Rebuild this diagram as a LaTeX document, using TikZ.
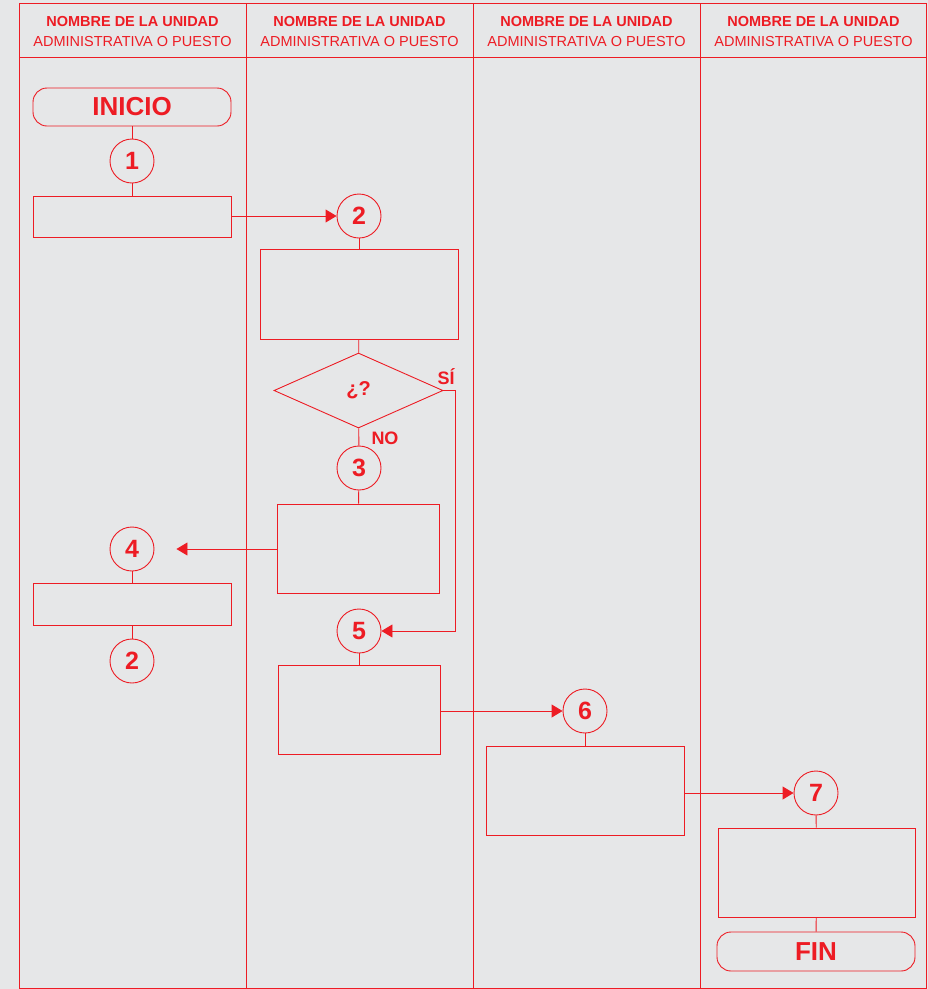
\documentclass[tikz,border=0pt]{standalone}
\usepackage{fontspec}
\setmainfont{Liberation Sans}
\usetikzlibrary{shapes.geometric,arrows.meta}
\definecolor{rojo}{HTML}{ED1C24}
\definecolor{fondo}{HTML}{E6E7E8}

\begin{document}
\begin{tikzpicture}
		[x=1pt,y=-1pt,
		color=rojo,
		block/.style ={rectangle, draw=rojo, line width=0.9pt, inner sep=0pt, minimum width=198pt},
		terminal/.style ={block, rounded corners=14pt, minimum height=38pt, font=\bfseries\fontsize{26}{28}\selectfont},
		paso/.style ={circle, draw=rojo, line width=0.9pt, minimum size=44pt, inner sep=0pt, font=\bfseries\fontsize{25}{26}\selectfont},
		decision/.style ={diamond, draw=rojo, line width=0.9pt, inner sep=0pt, minimum width=169pt, minimum height=75pt, font=\bfseries\fontsize{20}{22}\selectfont},
		etiqueta/.style ={font=\bfseries\fontsize{18}{19}\selectfont, inner sep=0pt},
		titulo/.style ={align=center, inner sep=0pt, font=\fontsize{14.5}{20}\selectfont},
		line/.style ={draw=rojo, line width=0.9pt},
		flecha/.style ={line, -{Triangle[length=11pt,width=13pt]}},
		]

		% fondo y carriles
		\fill[fondo] (0,0) rectangle (928,989);
		\useasboundingbox (0,0) rectangle (928,989);
		\draw[line, line width=0.7pt] (19,3) rectangle (926,988);
		\draw[line, line width=0.7pt] (19,57) -- (926,57);
		\draw[line, line width=0.7pt] (246,3) -- (246,988);
		\draw[line, line width=0.7pt] (473,3) -- (473,988);
		\draw[line, line width=0.7pt] (700,3) -- (700,988);

		\draw (132.5,31.5) node[titulo] (H1) {\textbf{\fontsize{14.5}{20}\selectfont NOMBRE DE LA UNIDAD}\\ADMINISTRATIVA O PUESTO};
		\draw (359.5,31.5) node[titulo] (H2) {\textbf{\fontsize{14.5}{20}\selectfont NOMBRE DE LA UNIDAD}\\ADMINISTRATIVA O PUESTO};
		\draw (586.5,31.5) node[titulo] (H3) {\textbf{\fontsize{14.5}{20}\selectfont NOMBRE DE LA UNIDAD}\\ADMINISTRATIVA O PUESTO};
		\draw (813.5,31.5) node[titulo] (H4) {\textbf{\fontsize{14.5}{20}\selectfont NOMBRE DE LA UNIDAD}\\ADMINISTRATIVA O PUESTO};

		% diagrama
		\draw (132,107) node[terminal] (INI) {INICIO};
		\draw (132,161) node[paso] (C1) {1};
		\draw (132,216.5) node[block, minimum height=41pt] (B1) {};
		\draw (359,216) node[paso] (C2) {2};
		\draw (359,294) node[block, minimum height=90pt] (B2) {};
		\draw (358.5,390.5) node[decision] (D1) {¿?};
		\draw (359,468) node[paso] (C3) {3};
		\draw (358,548.5) node[block, minimum width=162pt, minimum height=89pt] (B3) {};
		\draw (132,549) node[paso] (C4) {4};
		\draw (132,604) node[block, minimum height=42pt] (B4) {};
		\draw (132,661) node[paso] (C8) {2};
		\draw (359,631) node[paso] (C5) {5};
		\draw (359,709.5) node[block, minimum width=162pt, minimum height=89pt] (B5) {};
		\draw (585,711) node[paso] (C6) {6};
		\draw (585,790.5) node[block, minimum height=89pt] (B6) {};
		\draw (816,793) node[paso] (C7) {7};
		\draw (816.5,872.5) node[block, minimum width=197pt, minimum height=89pt] (B7) {};
		\draw (816,951.5) node[terminal, minimum height=39pt] (FIN) {FIN};

		\draw (446,377) node[etiqueta] (SI) {SÍ};
		\draw (385,438) node[etiqueta] (NO) {NO};

		\path
		(INI) edge[line] (C1)
		(C1) edge[line] (B1)
		(C2) edge[line] (B2)
		(B2) edge[line] (D1)
		(D1) edge[line] (C3)
		(C3) edge[line] (B3)
		(C4) edge[line] (B4)
		(B4) edge[line] (C8)
		(C5) edge[line] (B5)
		(C6) edge[line] (B6)
		(C7) edge[line] (B7)
		(B7) edge[line] (FIN);
		\path
		(B1.east |- C2) edge[flecha] (C2.west)
		(B3.west |- C4) edge[flecha, shorten >=22pt] (C4.east)
		(B5.east |- C6) edge[flecha] (C6.west)
		(B6.east |- C7) edge[flecha] (C7.west);
		\draw[flecha] (D1.east) -- ++(12,0) |- (C5.east);

	\end{tikzpicture}
\end{document}
